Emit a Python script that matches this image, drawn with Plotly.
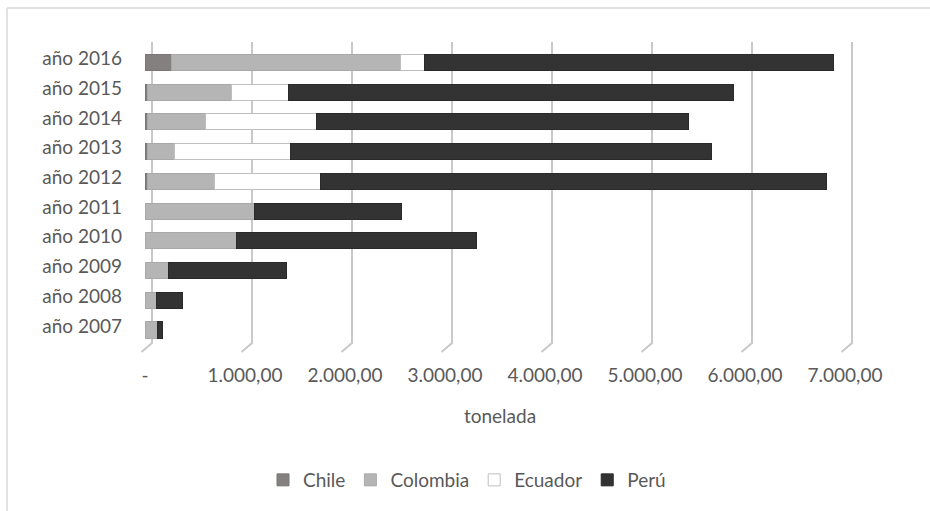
import plotly.graph_objects as go

# Import volumes (tonelada) by origin country and year
years = ["año 2007", "año 2008", "año 2009", "año 2010", "año 2011",
         "año 2012", "año 2013", "año 2014", "año 2015", "año 2016"]
chile = [0, 0, 0, 0, 0, 20, 20, 20, 20, 267]
colombia = [123, 110, 233, 917, 1090, 670, 270, 580, 847, 2283]
ecuador = [0, 0, 0, 0, 0, 1060, 1167, 1110, 566, 240]
peru = [50, 260, 1184, 2393, 1470, 5060, 4203, 3720, 4447, 4090]

tick_vals = [0, 1000, 2000, 3000, 4000, 5000, 6000, 7000]
tick_text = ["-", "1.000,00", "2.000,00", "3.000,00", "4.000,00",
             "5.000,00", "6.000,00", "7.000,00"]

FONT = "Lato"
TXT = "#595959"

W, H = 930, 511
ML, MR, MT, MB = 135, 65, 42, 159
PW, PH = W - ML - MR, H - MT - MB

series = [
    ("Chile", chile, "#858080", "#7a7676"),
    ("Colombia", colombia, "#b5b5b5", "#a8a8a8"),
    ("Ecuador", ecuador, "#ffffff", "#bfbfbf"),
    ("Perú", peru, "#333333", "#2a2a2a"),
]

fig = go.Figure()
for name, vals, fill, edge in series:
    fig.add_trace(go.Bar(
        y=years, x=vals, name=name, orientation="h",
        marker=dict(color=fill, line=dict(color=edge, width=1)),
        width=0.54,
    ))

# Back-wall gridlines with a short floor segment bending toward the front
depth_back, depth_front = 70, -35
kink = 9 / PH
shapes = []
for v in tick_vals:
    shapes.append(dict(
        type="path", xref="x", yref="paper", layer="below",
        path=f"M {v + depth_back},1 L {v + depth_back},{kink} L {v + depth_front},0",
        line=dict(color="#c9c9c9", width=2),
    ))

# Chart area outline (top and left edges)
x_left = (7 - ML) / PW
y_top = (H - MB - 8) / PH
shapes.append(dict(type="line", xref="paper", yref="paper",
                   x0=x_left, x1=2, y0=y_top, y1=y_top,
                   line=dict(color="#d9d9d9", width=1.5)))
shapes.append(dict(type="line", xref="paper", yref="paper",
                   x0=x_left, x1=x_left, y0=y_top, y1=-2,
                   line=dict(color="#d9d9d9", width=1.5)))

fig.update_layout(
    width=W, height=H,
    margin=dict(l=ML, r=MR, t=MT, b=MB),
    barmode="stack",
    paper_bgcolor="white", plot_bgcolor="white",
    font=dict(family=FONT, size=19, color=TXT),
    shapes=shapes,
    showlegend=True,
    legend=dict(orientation="h", x=(467 - ML) / PW, xanchor="center",
                y=(H - MB - 480) / PH, yanchor="middle",
                traceorder="normal", font=dict(size=19, color=TXT),
                itemclick=False),
    xaxis=dict(range=[-100, 7200], tickvals=tick_vals, ticktext=tick_text,
               showgrid=False, zeroline=False, showline=False, ticks="",
               ticklabelstandoff=10,
               tickfont=dict(size=19, color=TXT),
               title=dict(text="tonelada", font=dict(size=19, color=TXT),
                          standoff=24)),
    yaxis=dict(type="category", categoryorder="array", categoryarray=years,
               range=[-0.74, 9.69], showgrid=False, zeroline=False,
               showline=False, ticks="", ticklabelstandoff=12,
               ticklabelshift=-4,
               tickfont=dict(size=19, color=TXT)),
)

fig.write_html("out.html")
